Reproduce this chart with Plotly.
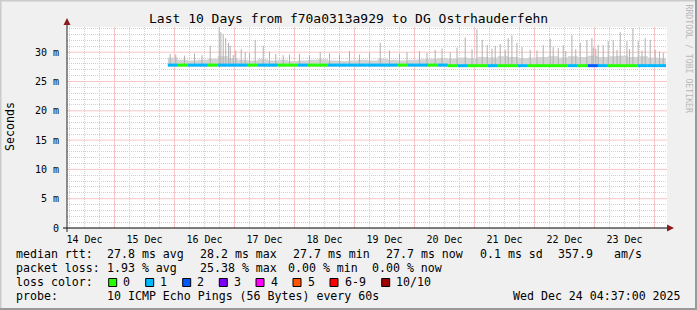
import pandas as pd
import plotly.graph_objects as go

# ---------------- data ----------------
title_text = "Last 10 Days from f70a0313a929 to DG Ostrhauderfehn"
y_ticks = [0, 5, 10, 15, 20, 25, 30]
y_ticktext = ["0", "5 m", "10 m", "15 m", "20 m", "25 m", "30 m"]

band_start = "2025-12-15 21:20"
band_end = "2025-12-24 04:37"
band_hours = 4
band_top = [29.1, 28.7, 28.6, 28.7, 28.9, 29.3, 29.0, 28.7, 28.6, 28.8,
            28.6, 28.7, 28.5, 28.6, 28.7, 28.8, 28.6, 28.5, 28.6, 28.7,
            28.6, 28.9, 28.7, 28.6, 28.7, 28.8, 28.9, 29.0, 28.9, 29.1,
            29.0, 29.2, 29.1, 29.3, 29.2, 29.0, 29.1, 29.2, 29.3, 29.1,
            29.3, 29.2, 29.4, 29.2, 29.3, 29.4, 29.2, 29.3, 29.1, 29.0]
band_low = [27.5] * 50
median = [27.8, 27.8, 27.8, 27.8, 27.8, 27.8, 27.8, 27.8, 27.8, 27.8,
          27.8, 27.8, 27.8, 27.8, 27.8, 27.8, 27.8, 27.8, 27.8, 27.8,
          27.8, 27.8, 27.8, 27.8, 27.8, 27.8, 27.8, 27.8, 27.7, 27.7,
          27.7, 27.7, 27.7, 27.7, 27.7, 27.7, 27.7, 27.7, 27.7, 27.7,
          27.7, 27.7, 27.7, 27.7, 27.7, 27.7, 27.7, 27.7, 27.7, 27.7]
loss = [1, 0, 1, 1, 0, 1, 1, 1, 0, 1,
        1, 0, 0, 1, 0, 0, 1, 1, 1, 1,
        1, 1, 1, 0, 1, 1, 0, 1, 0, 1,
        0, 0, 1, 0, 0, 1, 0, 0, 0, 0,
        1, 0, 2, 1, 0, 0, 0, 1, 1, 1]

spike_time = ["2025-12-15 22:17", "2025-12-16 14:17", "2025-12-16 17:53", "2025-12-16 18:33",
              "2025-12-16 19:29", "2025-12-16 20:29", "2025-12-16 21:36", "2025-12-16 22:17",
              "2025-12-16 23:29", "2025-12-17 02:41", "2025-12-17 04:17", "2025-12-17 08:17",
              "2025-12-17 11:29", "2025-12-17 19:29", "2025-12-18 10:17", "2025-12-19 10:17",
              "2025-12-20 08:17", "2025-12-20 14:17", "2025-12-20 20:17", "2025-12-21 00:58",
              "2025-12-21 03:05", "2025-12-21 05:05", "2025-12-21 08:17", "2025-12-21 10:17",
              "2025-12-21 12:17", "2025-12-21 13:29", "2025-12-21 14:58", "2025-12-21 16:58",
              "2025-12-21 22:17", "2025-12-22 03:29", "2025-12-22 06:17", "2025-12-22 07:29",
              "2025-12-22 11:29", "2025-12-22 14:58", "2025-12-22 18:17", "2025-12-22 20:58",
              "2025-12-22 22:58", "2025-12-23 01:29", "2025-12-23 03:29", "2025-12-23 05:29",
              "2025-12-23 07:29", "2025-12-23 10:17", "2025-12-23 12:58", "2025-12-23 15:22",
              "2025-12-23 17:29", "2025-12-23 20:17", "2025-12-23 22:17", "2025-12-24 00:17",
              # smaller spikes
              "2025-12-16 00:30", "2025-12-16 04:00", "2025-12-16 08:00", "2025-12-16 11:00",
              "2025-12-17 00:30", "2025-12-17 06:00", "2025-12-17 14:00", "2025-12-17 16:30",
              "2025-12-17 22:00", "2025-12-18 02:00", "2025-12-18 06:00", "2025-12-18 14:00",
              "2025-12-18 18:00", "2025-12-18 22:00", "2025-12-19 02:00", "2025-12-19 06:00",
              "2025-12-19 14:00", "2025-12-19 18:00", "2025-12-19 21:00", "2025-12-20 02:00",
              "2025-12-20 05:00", "2025-12-20 11:00", "2025-12-20 17:00", "2025-12-20 23:00",
              "2025-12-21 07:00", "2025-12-21 19:00", "2025-12-22 01:00", "2025-12-22 09:30",
              "2025-12-22 12:30", "2025-12-22 16:30", "2025-12-22 23:30", "2025-12-23 00:30",
              "2025-12-23 09:00", "2025-12-23 14:00", "2025-12-23 19:00", "2025-12-24 02:00",
              "2025-12-24 03:30"]
spike_value = [29.7, 31.1, 34.5, 33.4, 33.1, 32.4, 31.6, 31.1,
               29.5, 30.5, 30.0, 32.1, 31.1, 29.5, 30.0, 31.6,
               30.4, 30.0, 32.5, 33.9, 32.1, 31.2, 31.1, 31.4,
               30.4, 32.4, 32.9, 31.6, 30.4, 31.2, 32.3, 30.9,
               31.2, 32.9, 31.6, 32.1, 32.4, 31.2, 31.2, 31.9,
               32.1, 33.4, 31.9, 34.1, 31.9, 32.4, 32.1, 30.4,
               29.6, 29.4, 29.8, 29.5,
               30.3, 29.8, 30.1, 29.7,
               29.6, 29.7, 29.5, 29.8,
               29.6, 30.2, 29.6, 29.9,
               30.3, 29.7, 30.0, 30.2,
               29.9, 30.6, 30.8, 30.5,
               30.6, 30.9, 30.3, 30.7,
               30.2, 30.5, 30.8, 30.6,
               30.4, 30.5, 30.3, 30.1,
               29.9]
spike_base = 27.6

loss_labels = ["0", "1", "2", "3", "4", "5", "6-9", "10/10"]
loss_colors = ["#26ff00", "#00b8ff", "#0059ff", "#7e00ff", "#ff00ff", "#ff5500", "#ff0000", "#a10000"]

rtt_stats = ["27.8 ms avg", "28.2 ms max", "27.7 ms min", "27.7 ms now", "0.1 ms sd", "357.9", "am/s"]
loss_stats = ["1.93 % avg", "25.38 % max", "0.00 % min", "0.00 % now"]
probe_text = "10 ICMP Echo Pings (56 Bytes) every 60s"
stamp_text = "Wed Dec 24 04:37:00 2025"

# ---------------- layout geometry ----------------
W, H = 697, 310
PL, PR, PT, PB = 67, 667, 27, 228
FONT = "DejaVu Sans Mono"


def px(x):
    return (x - PL) / (PR - PL)


def py(y):
    return (PB - y) / (PB - PT)


x_range = ["2025-12-14 05:00", "2025-12-24 05:00"]
y_max = 34.3

# gridline positions
x_major = list(pd.date_range("2025-12-15 00:00", "2025-12-24 00:00", freq="1D"))
x_minor = [t for t in pd.date_range("2025-12-14 06:00", "2025-12-24 05:00", freq="6h") if t.hour != 0]
y_major = [5, 10, 15, 20, 25, 30]
y_minor = [v for v in range(1, 35) if v % 5 != 0]
x_labels_at = list(pd.date_range("2025-12-14 12:00", "2025-12-23 12:00", freq="1D"))
x_labels = [t.strftime("%d %b") for t in x_labels_at]

# ---------------- build traces ----------------
n = len(band_top)
edges = list(pd.date_range(band_start, periods=n, freq=f"{band_hours}h"))
edges.append(pd.Timestamp(band_end))

fig = go.Figure()

# smoke band
fig.add_trace(go.Scatter(x=edges, y=band_low + [band_low[-1]], mode="lines",
                         line=dict(width=0, shape="hv"), hoverinfo="skip", showlegend=False))
fig.add_trace(go.Scatter(x=edges, y=band_top + [band_top[-1]], mode="lines",
                         line=dict(width=0, shape="hv"), fill="tonexty",
                         fillcolor="#d4d4d4", hoverinfo="skip", showlegend=False))

# spikes
sx, sy = [], []
for t, v in zip(spike_time, spike_value):
    sx += [t, t, None]
    sy += [spike_base, v, None]
fig.add_trace(go.Scatter(x=sx, y=sy, mode="lines", line=dict(width=1, color="#b0b0b0"),
                         hoverinfo="skip", showlegend=False))

# median coloured by loss (one trace per loss level)
for lvl in sorted(set(loss)):
    mx, my = [], []
    for i in range(n):
        if loss[i] == lvl:
            mx += [edges[i], edges[i + 1], None]
            my += [median[i], median[i], None]
    fig.add_trace(go.Scatter(x=mx, y=my, mode="lines",
                             line=dict(width=3, color=loss_colors[lvl]),
                             hoverinfo="skip", showlegend=False))

# ---------------- axes ----------------
MAJ = "#f8c6c6"
MIN = "#d0d0d0"
DASH = "1px,1px"
fig.update_xaxes(type="date", range=x_range, tickmode="array", tickvals=x_labels_at, ticktext=x_labels,
                 ticks="", showgrid=False,
                 minor=dict(tickmode="array", tickvals=x_minor, showgrid=True, gridcolor=MIN,
                            griddash=DASH, gridwidth=1),
                 tickfont=dict(family=FONT, size=10, color="#000"),
                 ticklabelstandoff=4, zeroline=False, showline=False, fixedrange=True)
fig.update_yaxes(range=[0, y_max], tickvals=y_ticks, ticktext=y_ticktext, ticks="",
                 showgrid=False,
                 minor=dict(tickmode="array", tickvals=y_minor, showgrid=True, gridcolor=MIN,
                            griddash=DASH, gridwidth=1),
                 tickfont=dict(family=FONT, size=10, color="#000"),
                 ticklabelstandoff=7, zeroline=False, showline=False, fixedrange=True)

# ---------------- shapes ----------------
shapes = []
# major (red) grid
for t in x_major:
    shapes.append(dict(type="line", xref="x", yref="paper", x0=t, x1=t, y0=0, y1=1, layer="below",
                       line=dict(color=MAJ, width=1)))
for v in y_major:
    shapes.append(dict(type="line", xref="paper", yref="y", x0=0, x1=1, y0=v, y1=v, layer="below",
                       line=dict(color=MAJ, width=1)))
# axes lines
shapes.append(dict(type="line", xref="paper", yref="paper", x0=px(63), x1=px(668), y0=0, y1=0,
                   line=dict(color="#000", width=1)))
shapes.append(dict(type="line", xref="paper", yref="paper", x0=0, x1=0, y0=py(232), y1=py(24),
                   line=dict(color="#222", width=1)))
shapes.append(dict(type="path", xref="paper", yref="paper",
                   path=f"M {px(63.5)} {py(25)} L {px(70.5)} {py(25)} L {px(67)} {py(18)} Z",
                   fillcolor="#8b1a1a", line=dict(width=0)))
shapes.append(dict(type="path", xref="paper", yref="paper",
                   path=f"M {px(667)} {py(224.5)} L {px(667)} {py(231.5)} L {px(674)} {py(228)} Z",
                   fillcolor="#8b1a1a", line=dict(width=0)))
# frame
shapes.append(dict(type="line", xref="paper", yref="paper", x0=px(0), x1=px(697), y0=py(0.5), y1=py(0.5),
                   line=dict(color="#cbcbcb", width=2)))
shapes.append(dict(type="line", xref="paper", yref="paper", x0=px(0.5), x1=px(0.5), y0=py(0), y1=py(310),
                   line=dict(color="#cbcbcb", width=2)))
shapes.append(dict(type="line", xref="paper", yref="paper", x0=px(0), x1=px(697), y0=py(309), y1=py(309),
                   line=dict(color="#999999", width=2)))
shapes.append(dict(type="line", xref="paper", yref="paper", x0=px(696), x1=px(696), y0=py(0), y1=py(310),
                   line=dict(color="#999999", width=2)))

annotations = []


def text(x, y, s, size=11.6, color="#000", xanchor="left", angle=0):
    annotations.append(dict(x=px(x), y=py(y), xref="paper", yref="paper", text=s, showarrow=False,
                            xanchor=xanchor, yanchor="middle", textangle=angle,
                            font=dict(family=FONT, size=size, color=color),
                            borderpad=0, borderwidth=0))


text(348, 19, title_text, size=13, xanchor="center")
text(10, 127, "Seconds", size=11.6, xanchor="center", angle=-90)
text(688.5, 59, "RRDTOOL / TOBI OETIKER", size=8.2, color="#b8b8b8", xanchor="center", angle=90)

row1_x = [107.3, 200, 292.7, 386, 480, 558.3, 614.3]
text(16, 254.3, "median rtt:")
for xx, s in zip(row1_x, rtt_stats):
    text(xx, 254.3, s)
row2_x = [107.3, 200, 287.5, 372.3]
text(16, 268.3, "packet loss:")
for xx, s in zip(row2_x, loss_stats):
    text(xx, 268.3, s)
text(16, 282.3, "loss color:")
box_x = [108.7, 145.7, 182.7, 219.3, 256, 293, 330, 381.7]
for bx, lab, col in zip(box_x, loss_labels, loss_colors):
    shapes.append(dict(type="rect", xref="paper", yref="paper", x0=px(bx), x1=px(bx + 8),
                       y0=py(278.5), y1=py(286.5), fillcolor=col, line=dict(color="#000", width=1)))
    text(bx + 14.5, 282.3, lab)
text(16, 296, "probe:")
text(107.3, 296, probe_text)
text(513.3, 296, stamp_text)

fig.update_layout(width=W, height=H, margin=dict(l=PL, r=W - PR, t=PT, b=H - PB),
                  paper_bgcolor="#f0f0f0", plot_bgcolor="#ffffff",
                  showlegend=False, shapes=shapes, annotations=annotations,
                  hovermode=False)

fig.write_html("out.html", config={"displayModeBar": False})
